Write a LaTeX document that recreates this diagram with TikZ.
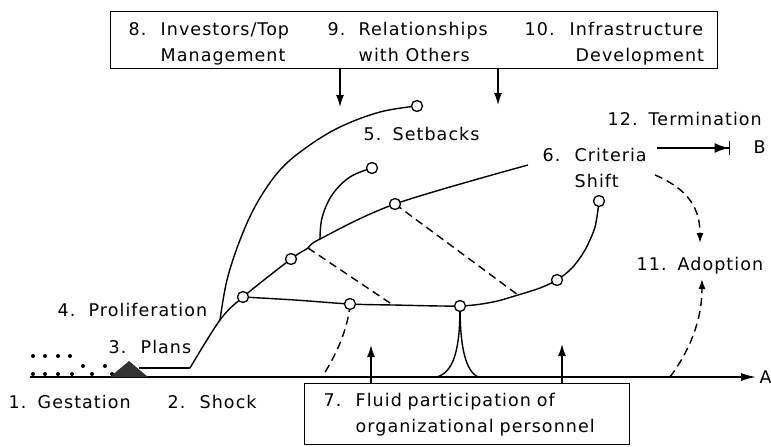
\documentclass[tikz,border=0pt]{standalone}
\usepackage{fontspec}
\setmainfont{DejaVu Sans}[LetterSpace=6]
\usetikzlibrary{arrows.meta}

\newcommand{\numlbl}[3][31pt]{\makebox[#1][l]{#2}#3}

\begin{document}
\begin{tikzpicture}[x=1pt,y=-1pt,line width=1.4pt,
    font=\fontsize{17.5}{26}\selectfont,
    lbl/.style={anchor=base west,inner sep=0pt,align=left},
    knot/.style={circle,draw,fill=white,inner sep=0pt,minimum size=11pt,line width=1.3pt},
    dashline/.style={dash pattern=on 8pt off 5pt},
    tip/.style={-{Latex[length=12pt,width=8pt]}}]
\useasboundingbox (0,0) rectangle (771,447);

% forces acting from above
\node[draw,anchor=north west,minimum width=607pt,minimum height=57pt,inner sep=0pt] (forces) at (110,11) {};
\node[lbl] (invest) at (128,61) {\numlbl[32pt]{8.}{Investors/Top}\\\hspace*{32pt}Management};
\node[lbl] (relat) at (327,61) {\numlbl{9.}{Relationships}\\\hspace*{31pt}with Others};
\node[lbl] (infra) at (524,61) {\numlbl[45pt]{10.}{Infrastructure}\\\hspace*{51pt}Development};
\coordinate (investtip) at (340,107);
\coordinate (infratip) at (498,105);
\draw[tip] (forces.south -| investtip) -- (investtip);
\draw[tip] (forces.south -| infratip) -- (infratip);

% time axis
\coordinate (axL) at (30,377);
\coordinate (axR) at (756,377);
\draw[-{Latex[length=15pt,width=8pt]}] (axL) -- (axR);
\node[lbl] (A) at (759,383) {A};

% gestation
\foreach \x in {33,45,58,70} \fill (\x,356) circle (2pt);
\foreach \x/\y in {33/374,45/374,58/374,72/374,83/366,92/374,105/366,112/374}
    \fill (\x,\y) circle (2pt);
\fill[black!80] (110,377) -- (129,361) -- (148,377) -- cycle;

% innovation paths
\coordinate (plan) at (139,368);
\coordinate (shock) at (190,368);
\coordinate (fork) at (220,320);
\coordinate (p1) at (243,297);
\coordinate (p2) at (291,259);
\coordinate (j1) at (308,248);
\coordinate (j2) at (320,239);
\coordinate (p3) at (395,204);
\coordinate (mend) at (528,165);
\coordinate (sb) at (417,106);
\coordinate (sb2) at (372,168);
\coordinate (q1) at (350,304);
\coordinate (d1) at (393,305);
\coordinate (q2) at (460,306);
\coordinate (d2) at (518,295);
\coordinate (q3) at (557,280);
\coordinate (q4) at (599,201);

\draw (plan) -- (shock);
\draw plot[smooth,tension=.55] coordinates {(shock) (fork) (p1) (p2) (j1) (j2) (p3) (mend)};
\draw plot[smooth,tension=.6] coordinates {(fork) (227,280) (240,240) (257,203) (280,170) (307,147) (340,127) (380,112) (sb)};
\draw plot[smooth,tension=.6] coordinates {(j2) (322,218) (332,195) (350,177) (sb2)};
\draw plot[smooth,tension=.5] coordinates {(p1) (295,300) (q1) (d1) (q2) (493,302) (d2) (540,288) (q3) (572,268) (585,250) (595,227) (q4)};
\draw[dashline] (j1) -- (d1);
\draw[dashline] (p3) -- (d2);

% spin-offs to the axis
\coordinate (f1) at (322,377);
\coordinate (c1) at (437,377);
\coordinate (c2) at (478,377);
\draw[dashline] (q1) .. controls (348,330) and (335,357) .. (f1);
\draw (q2) .. controls (460,355) and (452,372) .. (c1);
\draw (q2) .. controls (460,355) and (468,372) .. (c2);

\foreach \k in {p1,p2,p3,sb,sb2,q1,q2,q3,q4} \node[knot] (k\k) at (\k) {};

% personnel
\node[draw,anchor=north west,minimum width=325pt,minimum height=61pt,text width=287pt,
    inner xsep=19pt,align=left] (fluid) at (304,383)
    {\numlbl[32pt]{7.}{Fluid participation of}\\\hspace*{32pt}organizational personnel};
\coordinate (up1) at (371,345);
\coordinate (up2) at (562,344);
\draw[tip] (fluid.north -| up1) -- (up1);
\draw[tip] (fluid.north -| up2) -- (up2);

% stage labels
\node[lbl] (gest) at (8,408) {\numlbl[29pt]{1.}{Gestation}};
\node[lbl] (shk) at (167,408) {\numlbl[32pt]{2.}{Shock}};
\node[lbl] (plans) at (108,353) {\numlbl[32pt]{3.}{Plans}};
\node[lbl] (prolif) at (57,316) {\numlbl{4.}{Proliferation}};
\node[lbl] (setb) at (363,140) {\numlbl[29pt]{5.}{Setbacks}};
\node[lbl] (crit) at (542,187) {\numlbl[32pt]{6.}{Criteria}\\\hspace*{32pt}Shift};
\node[lbl] (adopt) at (636,270) {\numlbl[41pt]{11.}{Adoption}};
\node[lbl] (term) at (607,125) {\numlbl[41pt]{12.}{Termination}};
\node[lbl] (B) at (753,153) {B};

% outcomes
\coordinate (tstart) at (657,148);
\coordinate (tend) at (730,148);
\draw[-{Latex[length=14pt,width=10pt]Bar[width=14pt]}] (tstart) -- (tend);
\coordinate (shiftend) at (655,175);
\coordinate (adtop) at (700,243);
\coordinate (adfoot) at (670,377);
\coordinate (adbot) at (702,279);
\draw[dashline,-{Latex[length=10pt,width=7pt]}] (shiftend) .. controls (690,190) and (700,210) .. (adtop);
\draw[dashline,-{Latex[length=10pt,width=7pt]}] (adfoot) .. controls (690,350) and (702,320) .. (adbot);
\end{tikzpicture}
\end{document}
